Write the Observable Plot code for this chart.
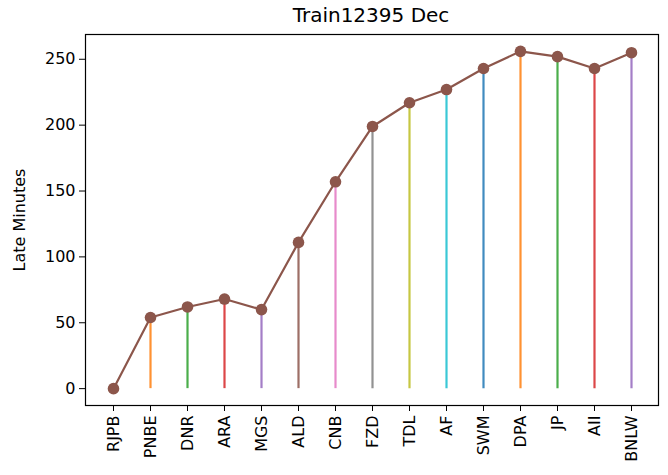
<!DOCTYPE html>
<html>
<head>
<meta charset="utf-8">
<script src="https://cdn.jsdelivr.net/npm/d3@7"></script>
<script src="https://cdn.jsdelivr.net/npm/@observablehq/plot@0.6"></script>
<style>
  html, body { margin: 0; padding: 0; background: #fff; }
  #title { width: 668px; height: 28px; line-height: 30px; font-family: "DejaVu Sans", sans-serif; font-size: 20px; color: #000; text-align: left; }
  #title span { display: inline-block; width: 572px; margin-left: 85px; text-align: center; }
</style>
</head>
<body>
<div id="title"><span>Train12395 Dec</span></div>
<div id="chart"></div>
<script>
const stations = ["RJPB","PNBE","DNR","ARA","MGS","ALD","CNB","FZD","TDL","AF","SWM","DPA","JP","AII","BNLW"];
const lateMinutes = [0, 54, 62, 68, 60, 111, 157, 199, 217, 227, 243, 256, 252, 243, 255];
const yTicks = [0, 50, 100, 150, 200, 250];
const palette = ["#1f77b4","#ff7f0e","#2ca02c","#d62728","#9467bd","#8c564b","#e377c2","#7f7f7f","#bcbd22","#17becf"];

const data = stations.map((s, i) => ({station: s, late: lateMinutes[i], color: palette[i % palette.length]}));
const lineColor = palette[stations.length % palette.length];

const chart = Plot.plot({
  width: 668,
  height: 447,
  marginTop: 6,
  marginBottom: 70,
  marginLeft: 85,
  marginRight: 10,
  style: {fontFamily: "DejaVu Sans, sans-serif", fontSize: "16px", color: "#000", background: "#fff"},
  x: {type: "point", domain: stations, padding: 0.7},
  y: {domain: [-12.8, 268.8]},
  color: {type: "identity"},
  marks: [
    Plot.ruleX(data, {x: "station", y1: 0, y2: "late", stroke: "color", strokeWidth: 2.2, strokeOpacity: 0.85}),
    Plot.line(data, {x: "station", y: "late", stroke: lineColor, strokeWidth: 2.2}),
    Plot.dot(data, {x: "station", y: "late", fill: lineColor, r: 5.8}),
    Plot.axisX({tickRotate: -90, tickSize: 6, tickPadding: 4, label: null, fontSize: 16}),
    Plot.axisY({ticks: yTicks, tickSize: 6, tickPadding: 4, label: "Late Minutes", labelAnchor: "center", labelArrow: "none", labelOffset: 72, fontSize: 16}),
    Plot.frame({stroke: "#000", strokeWidth: 1.2})
  ]
});
document.getElementById("chart").appendChild(chart);
</script>
</body>
</html>
